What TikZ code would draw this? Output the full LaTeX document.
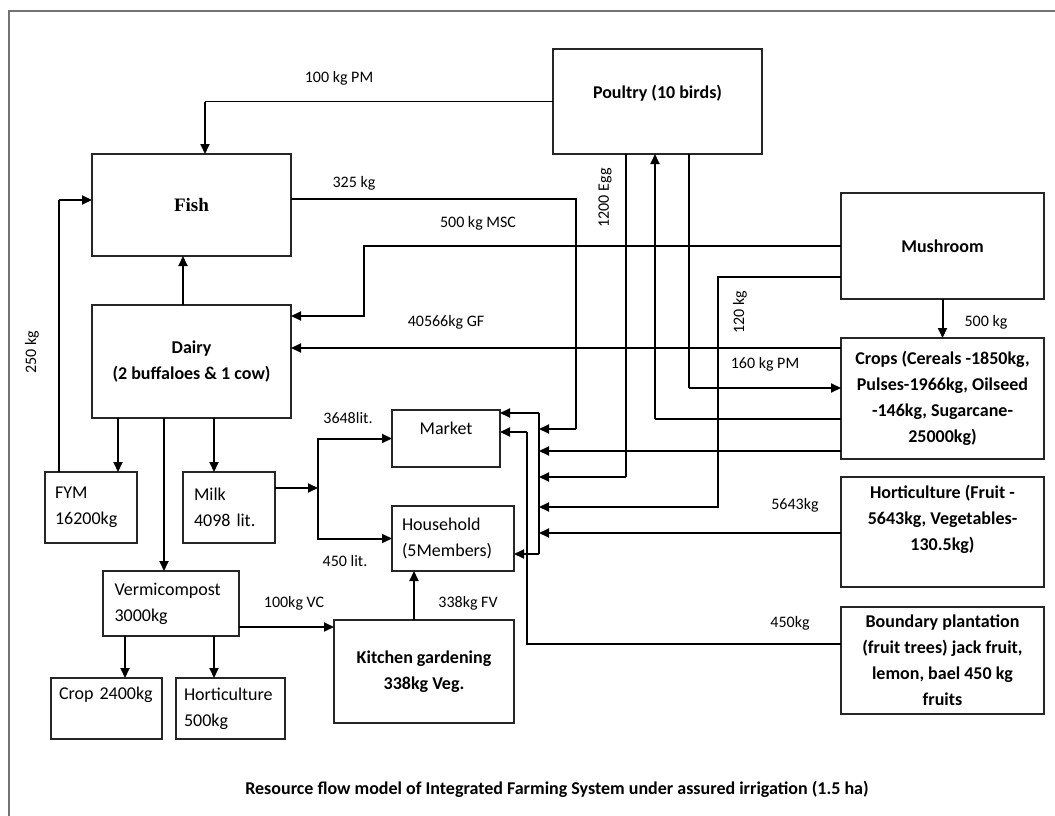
\documentclass[tikz,border=0pt]{standalone}
\usepackage{fontspec}
\setmainfont{Carlito}
\newfontfamily\fishfont{Liberation Serif}
\usetikzlibrary{arrows.meta}

\newcommand{\boxtxt}{\fontsize{18}{26}\selectfont}
\newcommand{\boldtxt}{\fontsize{18}{26}\selectfont\bfseries}
\newcommand{\lbltxt}{\fontsize{16}{19}\selectfont}
\newcommand{\fishtxt}{\fishfont\fontsize{19}{22}\selectfont\bfseries}
\newcommand{\titletxt}{\fontsize{18}{21}\selectfont\bfseries}

\begin{document}
\begin{tikzpicture}[x=1pt, y=-1pt,
	box/.style 2 args={draw=black!85, line width=1.1pt, inner sep=0pt, outer sep=0pt,
		minimum width=#1, minimum height=#2, align=center, font=\boxtxt},
	lefttxt/.style={align=left, text width=#1},
	lbl/.style={font=\lbltxt, inner sep=1pt},
	thinln/.style={line width=1.1pt},
	flow/.style={line width=2pt, -{Triangle[length=10pt,width=9pt]}}]
	
	\useasboundingbox (0,0) rectangle (1055,816);
	\draw[line width=1.5pt, black!55] (9,816) -- (9,11) -- (1055,11);
	
	% boxes
	\node[box={209pt}{105pt}, font=\boldtxt, text depth=20pt] (poultry) at (657.5,101.5) {Poultry (10 birds)};
	\node[box={199pt}{102pt}, font=\fishtxt] (fish) at (191.5,205) {Fish};
	\node[box={203pt}{106pt}, font=\boldtxt] (mushroom) at (942.5,246) {Mushroom};
	\node[box={199pt}{113pt}, font=\boldtxt] (dairy) at (191.5,361.5) {Dairy\\(2 buffaloes \& 1 cow)};
	\node[box={203pt}{121pt}, font=\boldtxt] (crops) at (942.5,398.5) {Crops (Cereals -1850kg,\\Pulses-1966kg, Oilseed\\-146kg, Sugarcane-\\25000kg)};
	\node[box={203pt}{110pt}, font=\boldtxt, text depth=28pt] (horti) at (942.5,532) {Horticulture (Fruit -\\5643kg, Vegetables-\\130.5kg)};
	\node[box={203pt}{107pt}, font=\boldtxt] (boundary) at (942.5,660.5) {Boundary plantation\\(fruit trees) jack fruit,\\lemon, bael 450 kg\\fruits};
	\node[box={92pt}{71pt}, lefttxt=72pt] (fym) at (91,507.5) {FYM\\16200kg};
	\node[box={92pt}{71pt}, lefttxt=70pt] (milk) at (229,507.5) {Milk\\4098 lit.};
	\node[box={108pt}{57pt}, text depth=20pt] (market) at (446,438.5) {Market};
	\node[box={122pt}{65pt}, lefttxt=102pt] (household) at (453,538.5) {Household\\(5Members)};
	\node[box={136pt}{65pt}, lefttxt=113pt] (vermi) at (171,603.5) {Vermicompost\\3000kg};
	\node[box={180pt}{103pt}, font=\boldtxt] (kitchen) at (424,671.5) {Kitchen gardening\\338kg Veg.};
	\node[box={111pt}{61pt}, lefttxt=95pt, text depth=30pt] (crop) at (106.5,708.5) {Crop 2400kg};
	\node[box={109pt}{61pt}, lefttxt=93pt] (hortsmall) at (230.5,708.5) {Horticulture\\500kg};
	
	% labels
	\node[lbl] (lpmfish) at (339,78) {100 kg PM};
	\node[lbl] (l325) at (354,183) {325 kg};
	\node[lbl] (lmsc) at (478,223) {500 kg MSC};
	\node[lbl] (lgf) at (446,322) {40566kg GF};
	\node[lbl, rotate=90] (legg) at (605,198) {1200 Egg};
	\node[lbl, rotate=90] (l120) at (740,312) {120 kg};
	\node[lbl] (l500) at (986,322) {500 kg};
	\node[lbl] (lpmcrop) at (765,364) {160 kg PM};
	\node[lbl, rotate=90] (l250) at (32,352) {250 kg};
	\node[lbl] (lmarket) at (348,418) {3648lit.};
	\node[lbl] (lhome) at (345,561) {450 lit.};
	\node[lbl] (l5643) at (795,505) {5643kg};
	\node[lbl] (l450) at (790,623) {450kg};
	\node[lbl] (lvc) at (294,603) {100kg VC};
	\node[lbl] (lfv) at (468,603) {338kg FV};
	\node[font=\titletxt] (title) at (557,789) {Resource flow model of Integrated Farming System under assured irrigation (1.5 ha)};
	
	% bends and channels
	\coordinate (pmfish) at (205,101.5);
	\coordinate (k250) at (59,200);
	\coordinate (f325) at (576,199);
	\coordinate (egg) at (626,477);
	\coordinate (cp) at (655,419);
	\coordinate (pc) at (689,388);
	\coordinate (msc1) at (364,246);
	\coordinate (msc2) at (364,316);
	\coordinate (m120a) at (718,277);
	\coordinate (m120b) at (718,507);
	\coordinate (gf) at (600,348);
	\coordinate (b1) at (539,429);
	\coordinate (b2) at (539,451);
	\coordinate (b3) at (539,477);
	\coordinate (b4) at (539,507);
	\coordinate (b5) at (539,533);
	\coordinate (bust) at (539,413);
	\coordinate (busb) at (539,554);
	\coordinate (bnd) at (527,644);
	\coordinate (mk2) at (527,432);
	\coordinate (milkj) at (318,488);
	\coordinate (vc) at (280,627);
	\coordinate (xup) at (183,0);
	\coordinate (xfym) at (118,0);
	\coordinate (xver) at (164,0);
	\coordinate (xmilk) at (214,0);
	\coordinate (xcrop) at (125,0);
	\coordinate (xhs) at (214,0);
	\coordinate (xkit) at (414,0);
	
	% flows
	\draw[thinln] (poultry.west) -- (pmfish);
	\draw[flow] (pmfish) -- (pmfish |- fish.north);
	\draw[thinln] (k250 |- fym.north) -- (k250);
	\draw[flow] (k250) -- (k250 -| fish.west);
	\draw[flow] (xup |- dairy.north) -- (xup |- fish.south);
	\draw[thinln] (fish.east |- f325) -- (f325) -- (f325 |- b1);
	\draw[flow] (f325 |- b1) -- (b1);
	\draw[thinln] (egg |- poultry.south) -- (egg);
	\draw[flow] (egg) -- (b3);
	\draw[thinln] (crops.west |- cp) -- (cp);
	\draw[flow] (cp) -- (cp |- poultry.south);
	\draw[thinln] (pc |- poultry.south) -- (pc);
	\draw[flow] (pc) -- (pc -| crops.west);
	\draw[flow] (mushroom.west) -- (msc1) -- (msc2) -- (msc2 -| dairy.east);
	\draw[flow] (m120a -| mushroom.west) -- (m120a) -- (m120b) -- (b4);
	\draw[flow] (gf -| crops.west) -- (gf -| dairy.east);
	\draw[flow] (mushroom.south) -- (crops.north);
	\draw[flow] (b2 -| crops.west) -- (b2);
	\draw[flow] (b5 -| horti.west) -- (b5);
	\draw[thinln] (bust) -- (busb);
	\draw[flow] (bust) -- (bust -| market.east);
	\draw[flow] (busb) -- (busb -| household.east);
	\draw[thinln] (bnd -| boundary.west) -- (bnd) -- (mk2);
	\draw[flow] (mk2) -- (mk2 -| market.east);
	\draw[flow] (milkj -| milk.east) -- (milkj);
	\draw[flow] (milkj) |- (market.west);
	\draw[flow] (milkj) |- (household.west);
	\draw[flow] (xfym |- dairy.south) -- (xfym |- fym.north);
	\draw[flow] (xmilk |- dairy.south) -- (xmilk |- milk.north);
	\draw[flow] (xver |- dairy.south) -- (xver |- vermi.north);
	\draw[flow] (xcrop |- vermi.south) -- (xcrop |- crop.north);
	\draw[flow] (xhs |- vermi.south) -- (xhs |- hortsmall.north);
	\draw[flow] (vc -| vermi.east) -- (vc -| kitchen.west);
	\draw[flow] (xkit |- kitchen.north) -- (xkit |- household.south);
\end{tikzpicture}
\end{document}
